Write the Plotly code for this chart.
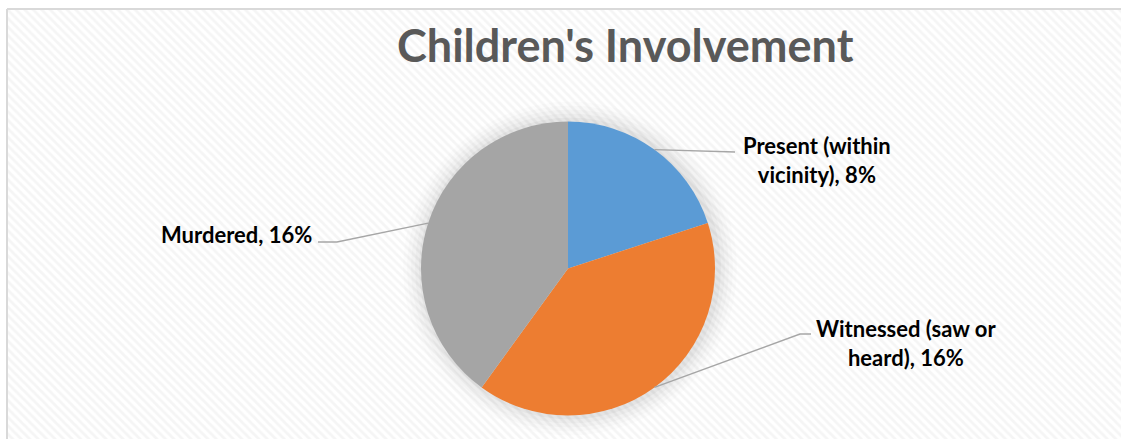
import math
import plotly.graph_objects as go

# ---- data ----
categories = ["Present (within vicinity)", "Witnessed (saw or heard)", "Murdered"]
label_lines = ["Present (within<br>vicinity)", "Witnessed (saw or<br>heard)", "Murdered"]
values = [8, 16, 16]
colors = ["#5B9BD5", "#ED7D31", "#A5A5A5"]
title_text = "Children's Involvement"

W, H = 1121, 439
CX, CY, R = 568.0, 268.5, 147.0  # pie centre / radius in pixels


def px(x, y):
    return x / W, 1 - y / H


fig = go.Figure()

# hatched chart-area background
fig.add_trace(go.Bar(
    x=[0], y=[1], width=[1], xaxis="x", yaxis="y",
    marker=dict(color="#FFFFFF", line=dict(width=0),
                pattern=dict(shape="\\", fgcolor="#EBEBEB", bgcolor="#FFFFFF",
                             size=6, solidity=0.45)),
    hoverinfo="skip", showlegend=False,
))

x0d, y0d = px(CX - R, CY + R)
x1d, y1d = px(CX + R, CY - R)

# soft shadow around pie
for k, op in [(20, 0.012), (16, 0.016), (12, 0.02), (8, 0.025), (4, 0.03)]:
    a0, b0 = px(CX - R - k + 2, CY + R + k)
    a1, b1 = px(CX + R + k + 2, CY - R - k)
    fig.add_trace(go.Pie(values=[1], labels=["s"], domain=dict(x=[a0, a1], y=[b0, b1]),
                         marker=dict(colors=["rgba(0,0,0,%s)" % op], line=dict(width=0)),
                         textinfo="none", hoverinfo="skip", showlegend=False, sort=False))

fig.add_trace(go.Pie(
    labels=categories, values=values, sort=False, direction="clockwise", rotation=0,
    domain=dict(x=[x0d, x1d], y=[y0d, y1d]),
    marker=dict(colors=colors, line=dict(width=0)),
    textinfo="none", showlegend=False,
))

# leader-line anchor points from slice mid-angles
total = sum(values)
cum = 0
anchors = []
for v in values:
    th = 2 * math.pi * (cum + v / 2) / total
    anchors.append((CX + R * math.sin(th), CY - R * math.cos(th)))
    cum += v

# label layout (pixels): text centre, elbow points
label_pos = [(817, 160), (906, 343), (236, 234)]
elbows = [[(735, 152)], [(800, 334), (811, 334)], [(337, 242), (318, 242)]]

shapes = []
annotations = []
for i in range(len(values)):
    pts = [anchors[i]] + elbows[i]
    path = ""
    for j, (x, y) in enumerate(pts):
        a, b = px(x, y)
        path += ("M" if j == 0 else "L") + f"{a:.5f},{b:.5f} "
    shapes.append(dict(type="path", xref="paper", yref="paper", path=path.strip(),
                       line=dict(color="#A6A6A6", width=1.4)))
    tx, ty = px(*label_pos[i])
    annotations.append(dict(xref="paper", yref="paper", x=tx, y=ty, xanchor="center",
                            yanchor="middle", showarrow=False, align="center",
                            text=f"<b>{label_lines[i]}, {values[i]}%</b>",
                            font=dict(family="Lato", size=22, color="#000000")))

tx, ty = px(625, 45)
annotations.append(dict(xref="paper", yref="paper", x=tx, y=ty, xanchor="center",
                        yanchor="middle", showarrow=False,
                        text=f"<b>{title_text}</b>",
                        font=dict(family="Lato", size=45, color="#595959")))

# chart border (top and left visible)
bx, by = px(7, 9)
shapes.append(dict(type="line", xref="paper", yref="paper", x0=bx, y0=by, x1=1.01, y1=by,
                   line=dict(color="#D9D9D9", width=2)))
shapes.append(dict(type="line", xref="paper", yref="paper", x0=bx, y0=by, x1=bx, y1=-0.01,
                   line=dict(color="#D9D9D9", width=2)))

fig.update_layout(
    width=W, height=H, autosize=False,
    margin=dict(l=0, r=0, t=0, b=0, pad=0),
    paper_bgcolor="#FFFFFF", plot_bgcolor="rgba(0,0,0,0)",
    xaxis=dict(domain=[bx, 1], range=[-0.49, 0.48], visible=False, fixedrange=True),
    yaxis=dict(domain=[0, by], range=[0.01, 0.99], visible=False, fixedrange=True),
    bargap=0, shapes=shapes, annotations=annotations,
    font=dict(family="Lato"),
)

fig.write_html("out.html", config={"displayModeBar": False},
               post_script="document.body.style.margin='0';document.body.style.overflow='hidden';")
